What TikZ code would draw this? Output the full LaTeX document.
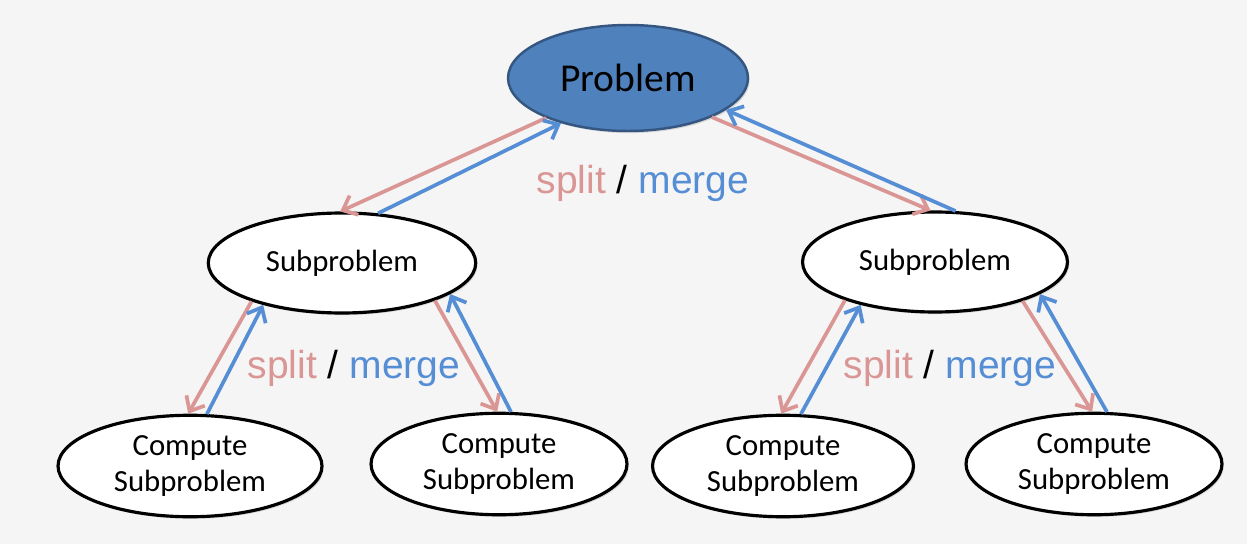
\documentclass[tikz,border=0pt]{standalone}
\usepackage{fontspec}
\setmainfont{Carlito}
\newfontfamily\labelfont{Liberation Sans}
\usetikzlibrary{arrows.meta,shapes.geometric,shadows}

\definecolor{bgray}{RGB}{245,245,245}
\definecolor{probfill}{RGB}{79,129,189}
\definecolor{probline}{RGB}{52,86,128}
\definecolor{splitred}{RGB}{217,150,148}
\definecolor{mergeblue}{RGB}{85,142,213}

\tikzset{
  task/.style={ellipse, draw=black, line width=1.8pt, fill=white, align=center,
    font=\fontsize{17.5}{20}\selectfont,
    drop shadow={opacity=0.25, shadow xshift=1pt, shadow yshift=-1.2pt}},
  split/.style={draw=splitred, line width=2.1pt, -{Straight Barb[length=7pt,width=12pt]}},
  merge/.style={draw=mergeblue, line width=2.1pt, -{Straight Barb[length=7pt,width=12pt]}},
  sm/.style={font=\labelfont\fontsize{22.2}{26}\selectfont}
}

\begin{document}
\begin{tikzpicture}[x=0.02cm, y=-0.02cm]
        \fill[bgray] (0, 0) rectangle (1247, 544);
        \useasboundingbox (0, 0) rectangle (1247, 544);
        \node[ellipse, draw=probline, line width=1.4pt, fill=probfill, minimum width=4.8cm, minimum height=2.12cm,
          font=\fontsize{22.5}{26}\selectfont,
          drop shadow={opacity=0.25, shadow xshift=1pt, shadow yshift=-1.2pt}] (problem) at (628, 78) {Problem};
        \node[task, minimum width=5.35cm, minimum height=2.0cm] (subl) at (342, 263) {Subproblem};
        \node[task, minimum width=5.3cm, minimum height=2.0cm] (subr) at (935, 262) {Subproblem};
        \node[task, minimum width=5.28cm, minimum height=1.95cm] (compa) at (190, 466) {Compute\\Subproblem};
        \node[task, minimum width=5.12cm, minimum height=1.92cm] (compb) at (499, 464) {Compute\\Subproblem};
        \node[task, minimum width=5.22cm, minimum height=1.95cm] (compc) at (783, 466) {Compute\\Subproblem};
        \node[task, minimum width=5.12cm, minimum height=1.92cm] (compd) at (1094, 464) {Compute\\Subproblem};
        \node[sm] (smtop) at (643, 183) {\textcolor{splitred}{split} / \textcolor{mergeblue}{merge}};
        \node[sm] (smleft) at (354, 368) {\textcolor{splitred}{split} / \textcolor{mergeblue}{merge}};
        \node[sm] (smright) at (950, 368) {\textcolor{splitred}{split} / \textcolor{mergeblue}{merge}};
        \draw[split] (problem.206) -- (subl.92);
        \draw[merge] (subl.54) -- (problem.214);
        \draw[split] (problem.335) -- (subr.95);
        \draw[merge] (subr.68) -- (problem.342);
        \draw[split] (subl.203) -- (compa.92);
        \draw[merge] (compa.72) -- (subl.208);
        \draw[split] (subl.338) -- (compb.92);
        \draw[merge] (compb.77) -- (subl.344);
        \draw[split] (subr.203) -- (compc.92);
        \draw[merge] (compc.71) -- (subr.210);
        \draw[split] (subr.336) -- (compd.92);
        \draw[merge] (compd.76) -- (subr.343);
      \end{tikzpicture}
\end{document}
